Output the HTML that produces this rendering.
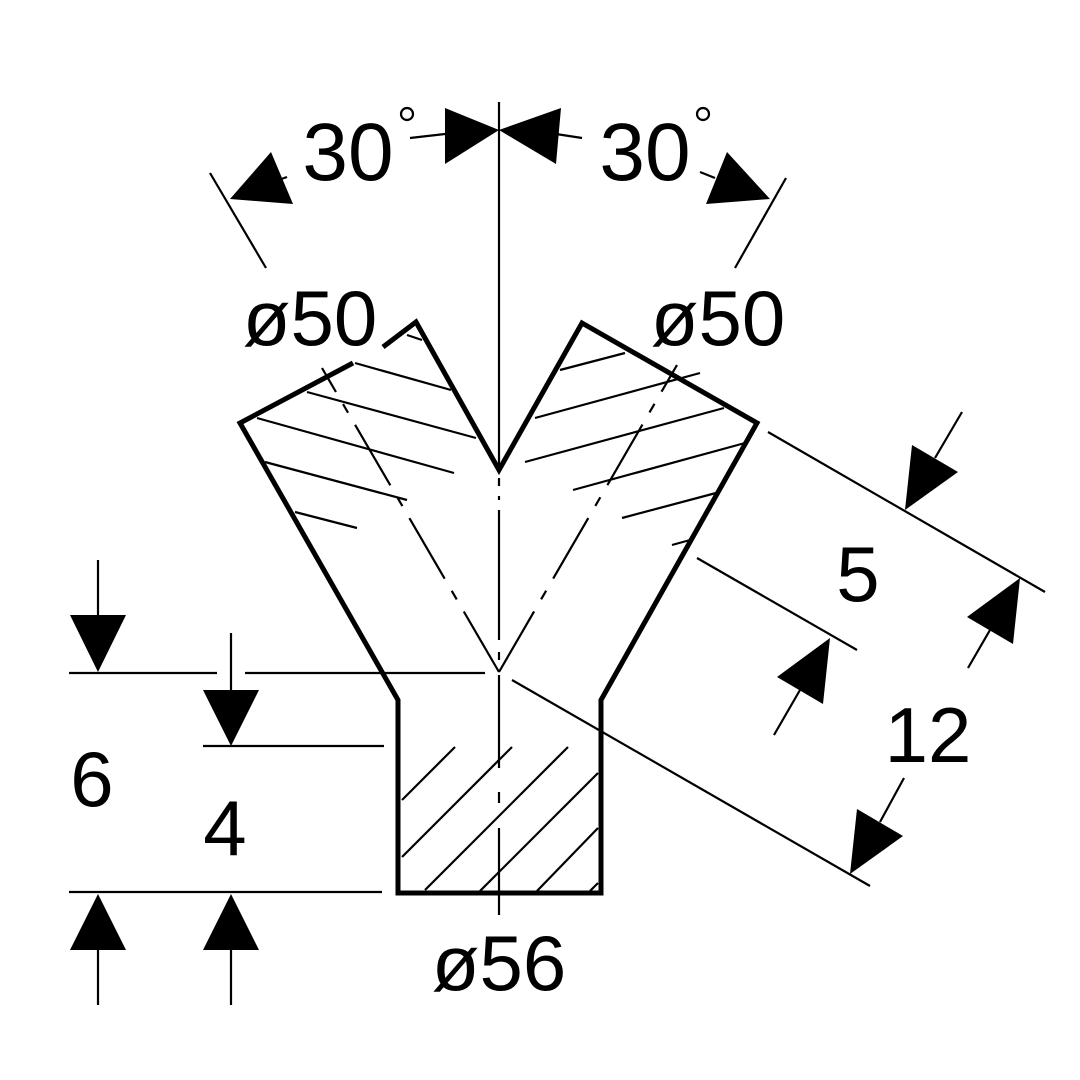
<!DOCTYPE html>
<html><head><style>html,body{margin:0;padding:0;background:#fff}svg{display:block}</style></head>
<body>
<svg width="1080" height="1080" viewBox="0 0 1080 1080" xmlns="http://www.w3.org/2000/svg">
<rect width="1080" height="1080" fill="#fff"/>
<g stroke="#000" stroke-width="2.2" fill="none">
<!-- hatching top -->
<line x1="407" y1="335" x2="422" y2="340"/>
<line x1="355" y1="363" x2="451" y2="390"/>
<line x1="307" y1="392" x2="476" y2="438"/>
<line x1="257" y1="418" x2="454" y2="473"/>
<line x1="265" y1="462" x2="407" y2="500"/>
<line x1="295" y1="512" x2="357" y2="528"/>
<line x1="560" y1="370" x2="625" y2="353"/>
<line x1="535" y1="418" x2="700" y2="373"/>
<line x1="525" y1="462" x2="724" y2="408"/>
<line x1="573" y1="490" x2="745" y2="443"/>
<line x1="622" y1="518" x2="716" y2="493"/>
<line x1="672" y1="545" x2="690" y2="540"/>
<!-- hatching bottom -->
<line x1="455" y1="747" x2="402" y2="800"/>
<line x1="512" y1="747" x2="402" y2="857"/>
<line x1="568" y1="747" x2="425" y2="890"/>
<line x1="598" y1="773" x2="480" y2="891"/>
<line x1="598" y1="828" x2="537" y2="891"/>
<line x1="598" y1="883" x2="590" y2="891"/>
<!-- center line -->
<line x1="499" y1="102" x2="499" y2="468"/>
<line x1="499" y1="478" x2="499" y2="500" stroke-dasharray="8 10"/>
<line x1="499" y1="510" x2="499" y2="640"/>
<line x1="499" y1="652" x2="499" y2="660"/>
<line x1="499" y1="675" x2="499" y2="768"/>
<line x1="499" y1="792" x2="499" y2="803"/>
<line x1="499" y1="828" x2="499" y2="915"/>
<!-- diagonal dash-dot -->
<line x1="499" y1="672" x2="322" y2="368" stroke-dasharray="70 14 10 14"/>
<line x1="499" y1="672" x2="677" y2="365" stroke-dasharray="70 14 10 14"/>
<!-- extension lines -->
<line x1="210" y1="173" x2="266" y2="268"/>
<line x1="786" y1="178" x2="735" y2="268"/>
<line x1="768" y1="432" x2="1045" y2="592"/>
<line x1="697" y1="558" x2="857" y2="650"/>
<line x1="512" y1="680" x2="870" y2="886"/>
<line x1="69" y1="673" x2="217" y2="673"/>
<line x1="245" y1="673" x2="485" y2="673"/>
<line x1="203" y1="746" x2="384" y2="746"/>
<line x1="69" y1="892" x2="382" y2="892"/>
<!-- arrow tails -->
<line x1="98" y1="560" x2="98" y2="615"/>
<line x1="231" y1="633" x2="231" y2="690"/>
<line x1="98" y1="950" x2="98" y2="1005"/>
<line x1="231" y1="950" x2="231" y2="1005"/>
<line x1="962" y1="412" x2="935" y2="458"/>
<line x1="774" y1="735" x2="800" y2="690"/>
<line x1="968" y1="668" x2="990" y2="630"/>
<line x1="904" y1="778" x2="880" y2="822"/>
<line x1="410" y1="138" x2="445" y2="134"/>
<line x1="556" y1="134" x2="582" y2="138"/>
<line x1="287" y1="177" x2="270" y2="183"/>
<line x1="700" y1="172" x2="715" y2="178"/>
<circle cx="407" cy="114" r="6"/>
<circle cx="703" cy="114" r="6"/>
</g>
<!-- outline -->
<g stroke="#000" stroke-width="5" fill="none" stroke-linejoin="miter">
<polyline points="383,347 416,322 499,470 582,323 757,423 601,700 601,893 398,893 398,700 240,423 353,363"/>
</g>
<!-- arrowheads -->
<g fill="#000">
<polygon points="70,615 126,615 98,672"/>
<polygon points="203,690 259,690 231,746"/>
<polygon points="70,950 126,950 98,894"/>
<polygon points="203,950 259,950 231,894"/>
<polygon points="905,510 958,472 912,445"/>
<polygon points="830,638 823,704 777,677"/>
<polygon points="1020,578 1013,644 967,617"/>
<polygon points="850,874 903,836 857,809"/>
<polygon points="499,130 445,108 445,164"/>
<polygon points="499,130 561,108 556,164"/>
<polygon points="230,199 271,152 293,204"/>
<polygon points="770,199 727,152 706,204"/>
</g>
<g font-family="Liberation Sans, sans-serif" font-size="78" fill="#000" text-anchor="middle">
<text x="348" y="180" font-size="82">30</text>
<text x="645" y="180" font-size="82">30</text>
<text x="310" y="345">ø50</text>
<text x="718" y="345">ø50</text>
<text x="92" y="806">6</text>
<text x="225" y="855">4</text>
<text x="499" y="990">ø56</text>
<text x="858" y="601">5</text>
<text x="928" y="762">12</text>
</g>
</svg>
</body></html>
